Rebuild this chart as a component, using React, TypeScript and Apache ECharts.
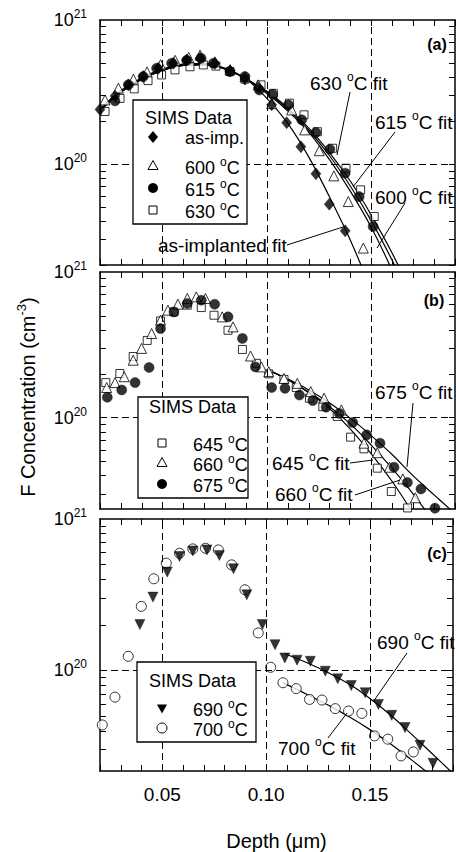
import React, { useEffect, useRef } from "react";
import * as echarts from "echarts";

const FONT = '"Liberation Sans", Arial, Helvetica, sans-serif';

// ---------- axes ----------
const X_MIN = 0.02;
const X_MAX = 0.19;
const X_STEP = 0.01;
const xLabelValues = [0.05, 0.1, 0.15];
const gridLineX = [0.05, 0.1, 0.15];
const gridLineY = 1e20;
const Y_MAX = 1e21;
const yMins = [2.0e19, 2.36e19, 2.17e19];
const yTicks = [
  2e19, 3e19, 4e19, 5e19, 6e19, 7e19, 8e19, 9e19, 1e20,
  2e20, 3e20, 4e20, 5e20, 6e20, 7e20, 8e20, 9e20, 1e21,
];

// ---------- panel (a) ----------
const aAsImpX = [0.02, 0.0272, 0.0336, 0.0407, 0.0479, 0.0551, 0.0615, 0.0679, 0.075, 0.0823, 0.0894, 0.0958, 0.1022, 0.1094, 0.1162, 0.1234, 0.1298, 0.1374];
const aAsImpY = [2.4e20, 2.97e20, 3.55e20, 4.05e20, 4.62e20, 5.01e20, 5.28e20, 5.43e20, 5.0e20, 4.44e20, 3.89e20, 3.39e20, 2.58e20, 1.94e20, 1.32e20, 8.57e19, 5.28e19, 3.45e19];
const a600X = [0.0224, 0.0288, 0.036, 0.0425, 0.049, 0.056, 0.0625, 0.0679, 0.075, 0.0823, 0.0894, 0.0958, 0.1022, 0.1118, 0.118, 0.125, 0.132, 0.1389, 0.1461];
const a600Y = [2.79e20, 3.37e20, 3.89e20, 4.37e20, 4.9e20, 5.25e20, 5.5e20, 5.71e20, 5.13e20, 4.52e20, 4.05e20, 3.55e20, 2.63e20, 2.38e20, 1.73e20, 1.24e20, 8.3e19, 5.51e19, 2.62e19];
const a615X = [0.0272, 0.0336, 0.0407, 0.0471, 0.0543, 0.0615, 0.0684, 0.0743, 0.0822, 0.0894, 0.0963, 0.1027, 0.1102, 0.1166, 0.1234, 0.1301, 0.1374, 0.1441, 0.1508];
const a615Y = [2.75e20, 3.55e20, 4.05e20, 4.62e20, 5.01e20, 5.25e20, 5.43e20, 5.01e20, 4.39e20, 4.05e20, 3.27e20, 3.05e20, 2.58e20, 2.03e20, 1.66e20, 1.27e20, 8.67e19, 5.96e19, 3.7e19];
const a630X = [0.0224, 0.0296, 0.0364, 0.043, 0.0495, 0.0559, 0.0631, 0.0695, 0.0755, 0.0822, 0.0894, 0.0971, 0.103, 0.1107, 0.1177, 0.1241, 0.1314, 0.1378, 0.1448, 0.1513];
const a630Y = [2.32e20, 2.86e20, 3.33e20, 3.8e20, 4.16e20, 4.51e20, 4.74e20, 4.88e20, 4.79e20, 4.39e20, 3.89e20, 3.55e20, 3.1e20, 2.65e20, 2.2e20, 1.68e20, 1.29e20, 9.38e19, 6.64e19, 4.34e19];

const aFitX = [0.02, 0.03, 0.04, 0.05, 0.06, 0.07, 0.08, 0.09, 0.1, 0.11, 0.12, 0.13, 0.14, 0.15, 0.16, 0.17];
const aFitAsImpY = [2.4e20, 3.24e20, 3.98e20, 4.57e20, 4.95e20, 5.01e20, 4.62e20, 3.89e20, 2.85e20, 1.91e20, 1.12e20, 5.89e19, 2.95e19, 1.32e19];
const aFit600Y = [2.34e20, 3.16e20, 3.89e20, 4.47e20, 4.84e20, 4.9e20, 4.57e20, 3.89e20, 3.09e20, 2.34e20, 1.66e20, 1.07e20, 6.46e19, 3.63e19, 1.82e19];
const aFit615Y = [2.34e20, 3.16e20, 3.89e20, 4.47e20, 4.84e20, 4.9e20, 4.57e20, 3.89e20, 3.16e20, 2.4e20, 1.72e20, 1.14e20, 7.0e19, 4.03e19, 2.14e19, 1.05e19];
const aFit630Y = [2.34e20, 3.16e20, 3.89e20, 4.47e20, 4.84e20, 4.9e20, 4.57e20, 3.89e20, 3.2e20, 2.45e20, 1.78e20, 1.2e20, 7.59e19, 4.42e19, 2.4e19, 1.2e19];

// ---------- panel (b) ----------
const b645X = [0.0228, 0.0295, 0.0359, 0.0426, 0.049, 0.0554, 0.0618, 0.0685, 0.0746, 0.0813, 0.0882, 0.0949, 0.1008, 0.1081, 0.114, 0.1203, 0.1267, 0.1336, 0.14, 0.1464, 0.1528, 0.1595, 0.1673];
const b645Y = [1.74e20, 2.01e20, 2.63e20, 3.39e20, 4.61e20, 5.32e20, 5.92e20, 5.7e20, 5.05e20, 3.98e20, 2.94e20, 2.36e20, 2.0e20, 1.83e20, 1.61e20, 1.36e20, 1.19e20, 1.02e20, 7.35e19, 6.11e19, 4.5e19, 3.11e19, 2.4e19];
const b660X = [0.0232, 0.0272, 0.0316, 0.0359, 0.0399, 0.0447, 0.049, 0.0525, 0.0573, 0.0618, 0.0661, 0.0705, 0.0785, 0.0837, 0.0921, 0.0973, 0.1008, 0.1081, 0.1145, 0.1209, 0.1273, 0.1356, 0.1464, 0.1528, 0.1586, 0.165, 0.171];
const b660Y = [1.61e20, 1.74e20, 1.91e20, 2.48e20, 2.99e20, 3.78e20, 4.67e20, 5.47e20, 6.01e20, 6.58e20, 6.75e20, 6.58e20, 4.92e20, 4.2e20, 2.65e20, 2.23e20, 2.07e20, 1.86e20, 1.72e20, 1.51e20, 1.36e20, 1.13e20, 6.68e19, 5.75e19, 4.57e19, 3.8e19, 2.82e19];
const b675X = [0.0235, 0.0304, 0.0368, 0.0435, 0.049, 0.0554, 0.0618, 0.0685, 0.0749, 0.0813, 0.0882, 0.0944, 0.1022, 0.1086, 0.1155, 0.1219, 0.1283, 0.1346, 0.141, 0.1477, 0.1541, 0.1608, 0.1672, 0.1737, 0.1804];
const b675Y = [1.38e20, 1.55e20, 1.74e20, 2.21e20, 4.09e20, 5.32e20, 6.08e20, 6.4e20, 6.01e20, 4.92e20, 3.5e20, 2.23e20, 1.61e20, 1.59e20, 1.43e20, 1.31e20, 1.18e20, 1.07e20, 9.25e19, 7.62e19, 6.68e19, 4.57e19, 3.59e19, 3.24e19, 2.39e19];

const bFitX = [0.1, 0.11, 0.12, 0.13, 0.14, 0.15, 0.16, 0.17, 0.18, 0.19];
const bFit645Y = [2.14e20, 1.82e20, 1.48e20, 1.15e20, 8.32e19, 5.62e19, 3.63e19, 2.19e19, 1.26e19];
const bFit660Y = [2.14e20, 1.82e20, 1.5e20, 1.19e20, 9.02e19, 6.46e19, 4.47e19, 2.99e19, 1.91e19];
const bFit675Y = [2.14e20, 1.84e20, 1.55e20, 1.26e20, 9.89e19, 7.5e19, 5.56e19, 3.98e19, 2.95e19, 2.19e19];

// ---------- panel (c) ----------
const c690X = [0.0392, 0.0455, 0.0524, 0.0583, 0.0647, 0.0715, 0.0775, 0.0843, 0.0907, 0.0982, 0.1043, 0.109, 0.1149, 0.1213, 0.1285, 0.1345, 0.141, 0.1477, 0.1541, 0.1605, 0.1669, 0.1741, 0.1804];
const c690Y = [2.01e20, 3.05e20, 4.46e20, 5.65e20, 6.15e20, 6.25e20, 5.74e20, 4.69e20, 3.16e20, 2.01e20, 1.48e20, 1.21e20, 1.17e20, 1.15e20, 9.89e19, 8.81e19, 7.96e19, 7.13e19, 5.97e19, 5.06e19, 4.2e19, 3.21e19, 2.44e19];
const c700X = [0.0211, 0.0272, 0.0336, 0.0399, 0.0459, 0.0519, 0.0583, 0.0647, 0.0708, 0.077, 0.0834, 0.0898, 0.0962, 0.1022, 0.1081, 0.1145, 0.1209, 0.1269, 0.1333, 0.1397, 0.1461, 0.1522, 0.1586, 0.165, 0.1709];
const c700Y = [4.37e19, 6.67e19, 1.24e20, 2.65e20, 4.03e20, 5.11e20, 5.94e20, 6.35e20, 6.41e20, 6.25e20, 4.98e20, 3.41e20, 1.77e20, 1.05e20, 8.3e19, 7.59e19, 6.44e19, 6.38e19, 5.6e19, 5.4e19, 5.21e19, 3.7e19, 3.52e19, 2.73e19, 2.9e19];

const cFit690X = [0.109, 0.12, 0.13, 0.14, 0.15, 0.16, 0.17, 0.18, 0.19];
const cFit690Y = [1.29e20, 1.12e20, 9.66e19, 8.13e19, 6.53e19, 5.07e19, 3.8e19, 2.82e19, 2.09e19];
const cFit700X = [0.108, 0.12, 0.13, 0.14, 0.15, 0.16, 0.17, 0.18];
const cFit700Y = [8.32e19, 6.92e19, 5.89e19, 4.95e19, 4.07e19, 3.27e19, 2.57e19, 2.0e19];

// ---------- helpers ----------
const zip = (xs: number[], ys: number[]) => ys.map((y, i) => [xs[i], y]);

const AX = { color: "#000", width: 1.5 };
const TK = { color: "#000", width: 1 };

const supRich = {
  n: { fontSize: 19, fontFamily: FONT, color: "#000", lineHeight: 24 },
  d: { fontSize: 12, fontFamily: FONT, color: "#000", lineHeight: 8, verticalAlign: "top" },
  l: { fontSize: 18, fontFamily: FONT, color: "#000", lineHeight: 24 },
  e: { fontSize: 12, fontFamily: FONT, color: "#000", lineHeight: 14, verticalAlign: "top" },
};

const deg = (pre: string, post: string, key = "n") => `{${key}|${pre} }{d|o}{${key}|${post}}`;

const grids = [
  { left: 100, top: 20, width: 355, height: 245 },
  { left: 100, top: 272, width: 355, height: 237 },
  { left: 100, top: 519, width: 355, height: 253 },
];

function xAxisFor(g: number, position: "bottom" | "top") {
  const showLabel = g === 2 && position === "bottom";
  const ax: any = {
    type: "value",
    gridIndex: g,
    position,
    min: X_MIN,
    max: X_MAX,
    interval: X_STEP,
    axisLine: { show: true, onZero: false, lineStyle: AX },
    axisTick: { show: true, inside: true, length: 6, lineStyle: TK },
    splitLine: { show: false },
    axisLabel: showLabel
      ? {
          show: true,
          interval: 0,
          margin: 14,
          fontSize: 19,
          fontFamily: FONT,
          color: "#000",
          formatter: (v: number) => {
            const hit = xLabelValues.find((t) => Math.abs(t - v) < 1e-6);
            return hit === undefined ? "" : hit.toFixed(2);
          },
        }
      : { show: false },
  };
  if (showLabel) {
    ax.name = "Depth (\u03bcm)";
    ax.nameLocation = "middle";
    ax.nameGap = 60;
    ax.nameTextStyle = { fontSize: 20, fontFamily: FONT, color: "#000" };
  }
  return ax;
}

function yAxisFor(g: number, position: "left" | "right") {
  return {
    type: "log",
    logBase: 10,
    gridIndex: g,
    position,
    min: yMins[g],
    max: Y_MAX,
    axisLine: { show: true, onZero: false, lineStyle: AX },
    axisTick: { show: true, inside: true, length: 6, customValues: yTicks, lineStyle: TK },
    splitLine: { show: false },
    axisLabel:
      position === "left"
        ? {
            show: true,
            margin: 13,
            formatter: (v: number) => {
              const e = Math.log10(v);
              const r = Math.round(e);
              if (Math.abs(e - r) > 1e-6) return "";
              return `{l|10}{e|${r}}`;
            },
            rich: supRich,
          }
        : { show: false },
  };
}

const gridMarkLine = {
  silent: true,
  symbol: ["none", "none"],
  label: { show: false },
  lineStyle: { color: "#000", width: 1, type: [7, 4] },
  data: [...gridLineX.map((v) => ({ xAxis: v })), { yAxis: gridLineY }],
};

function fit(name: string, g: number, xs: number[], ys: number[], withGrid = false) {
  const s: any = {
    name,
    type: "line",
    xAxisIndex: 2 * g,
    yAxisIndex: 2 * g,
    data: zip(xs, ys),
    symbol: "none",
    smooth: 0.4,
    clip: true,
    silent: true,
    z: 2,
    lineStyle: { color: "#000", width: 1.2 },
  };
  if (withGrid) s.markLine = gridMarkLine;
  return s;
}

function pts(name: string, g: number, xs: number[], ys: number[], symbol: string, size: any, filled: boolean, rotate = 0) {
  return {
    name,
    type: "scatter",
    xAxisIndex: 2 * g,
    yAxisIndex: 2 * g,
    data: zip(xs, ys),
    symbol,
    symbolSize: size,
    symbolRotate: rotate,
    silent: true,
    z: 3,
    itemStyle: filled
      ? { color: "#000", borderColor: "#000", borderWidth: 0.5 }
      : { color: "#fff", borderColor: "#000", borderWidth: 1 },
  };
}

// ---------- graphic helpers (legend / annotations) ----------
function sym(kind: string, cx: number, cy: number): any {
  const open = { fill: "#fff", stroke: "#000", lineWidth: 1 };
  const solid = { fill: "#000" };
  switch (kind) {
    case "diamond":
      return { type: "polygon", z: 101, shape: { points: [[cx, cy - 6], [cx + 5, cy], [cx, cy + 6], [cx - 5, cy]] }, style: solid };
    case "triOpen":
      return { type: "polygon", z: 101, shape: { points: [[cx, cy - 5.5], [cx + 5, cy + 3.5], [cx - 5, cy + 3.5]] }, style: open };
    case "triDown":
      return { type: "polygon", z: 101, shape: { points: [[cx - 5, cy - 3.5], [cx + 5, cy - 3.5], [cx, cy + 5.5]] }, style: solid };
    case "circle":
      return { type: "circle", z: 101, shape: { cx, cy, r: 5 }, style: solid };
    case "circleOpen":
      return { type: "circle", z: 101, shape: { cx, cy, r: 5 }, style: open };
    default:
      return { type: "rect", z: 101, shape: { x: cx - 4, y: cy - 4, width: 8, height: 8 }, style: open };
  }
}

function txt(text: string, x: number, y: number, align = "left", z = 101): any {
  return {
    type: "text",
    x,
    y,
    z,
    style: {
      text,
      rich: supRich,
      align,
      textAlign: align,
      verticalAlign: "middle",
      textVerticalAlign: "middle",
      fill: "#000",
      fontFamily: FONT,
      fontSize: 18,
    },
  };
}

function plain(text: string, x: number, y: number, size = 18): any {
  return {
    type: "text",
    x,
    y,
    z: 101,
    style: {
      text,
      fontSize: size,
      fontFamily: FONT,
      fill: "#000",
      align: "left",
      textAlign: "left",
      verticalAlign: "middle",
      textVerticalAlign: "middle",
    },
  };
}

function leader(x1: number, y1: number, x2: number, y2: number): any {
  return { type: "line", z: 101, shape: { x1, y1, x2, y2 }, style: { stroke: "#000", lineWidth: 1 } };
}

function box(x: number, y: number, w: number, h: number): any {
  return { type: "rect", z: 100, shape: { x, y, width: w, height: h }, style: { fill: "#fff", stroke: "#000", lineWidth: 1.3 } };
}

function buildGraphic() {
  const els: any[] = [];
  // legend (a)
  els.push(box(133, 100, 114, 124));
  els.push(plain("SIMS Data", 145, 118));
  els.push(sym("diamond", 153, 137), plain("as-imp.", 185, 137.5));
  els.push(sym("triOpen", 153, 166), txt(deg("600", "C", "l"), 185, 168));
  els.push(sym("circle", 153, 188), txt(deg("615", "C", "l"), 185, 190));
  els.push(sym("square", 153, 210), txt(deg("630", "C", "l"), 185, 212));
  // legend (b)
  els.push(box(138, 397, 110, 101));
  els.push(plain("SIMS Data", 149, 407));
  els.push(sym("square", 162, 443), txt(deg("645", "C", "l"), 193, 445));
  els.push(sym("triOpen", 162, 463), txt(deg("660", "C", "l"), 193, 465));
  els.push(sym("circle", 162, 484), txt(deg("675", "C", "l"), 193, 486));
  // legend (c)
  els.push(box(137, 662, 119, 80));
  els.push(plain("SIMS Data", 149, 681));
  els.push(sym("triDown", 162, 708), txt(deg("690", "C", "l"), 193, 710));
  els.push(sym("circleOpen", 162, 728), txt(deg("700", "C", "l"), 193, 730));

  // fit annotations (a)
  els.push(txt(deg("630", "C fit"), 310, 83), leader(350, 92, 337, 155));
  els.push(txt(deg("615", "C fit"), 375, 122), leader(395, 132, 353, 187));
  els.push(txt(deg("600", "C fit"), 375, 197), leader(405, 203, 377, 248));
  els.push(plain("as-implanted fit", 158, 245, 19), leader(287, 245, 343, 227));
  // (b)
  els.push(txt(deg("675", "C fit"), 375, 392), leader(413, 403, 407, 467));
  els.push(txt(deg("645", "C fit"), 272, 463), leader(350, 463, 373, 460));
  els.push(txt(deg("660", "C fit"), 275, 494), leader(355, 495, 400, 480));
  // (c)
  els.push(txt(deg("690", "C fit"), 377, 642), leader(407, 653, 373, 702));
  els.push(txt(deg("700", "C fit"), 278, 748), leader(328, 738, 347, 713));

  // panel letters
  const bold = (t: string, x: number, y: number) => ({
    type: "text",
    x,
    y,
    z: 101,
    style: { text: t, fontSize: 16, fontWeight: "bold", fontFamily: FONT, fill: "#000", align: "center", textAlign: "center", verticalAlign: "middle", textVerticalAlign: "middle" },
  });
  els.push(bold("(a)", 437, 44), bold("(b)", 434, 300), bold("(c)", 437, 553));

  // y-axis title
  els.push({
    type: "text",
    x: 28,
    y: 397,
    rotation: Math.PI / 2,
    z: 101,
    style: {
      text: "{t|F Concentration (cm}{e|-3}{t|)}",
      rich: {
        t: { fontSize: 20, fontFamily: FONT, color: "#000", lineHeight: 26 },
        e: { fontSize: 13, fontFamily: FONT, color: "#000", lineHeight: 14, verticalAlign: "top" },
      },
      align: "center",
      textAlign: "center",
      verticalAlign: "middle",
      textVerticalAlign: "middle",
    },
  });
  return els;
}

function buildOption() {
  const xAxis: any[] = [];
  const yAxis: any[] = [];
  for (let g = 0; g < 3; g++) {
    xAxis.push(xAxisFor(g, "bottom"), xAxisFor(g, "top"));
    yAxis.push(yAxisFor(g, "left"), yAxisFor(g, "right"));
  }
  const series = [
    fit("as-implanted fit", 0, aFitX, aFitAsImpY, true),
    fit("600 °C fit", 0, aFitX, aFit600Y),
    fit("615 °C fit", 0, aFitX, aFit615Y),
    fit("630 °C fit", 0, aFitX, aFit630Y),
    pts("630 °C", 0, a630X, a630Y, "rect", 8, false),
    pts("600 °C", 0, a600X, a600Y, "triangle", 10, false),
    pts("as-imp.", 0, aAsImpX, aAsImpY, "diamond", [10, 12], true),
    pts("615 °C", 0, a615X, a615Y, "circle", 10, true),

    fit("645 °C fit", 1, bFitX, bFit645Y, true),
    fit("660 °C fit", 1, bFitX, bFit660Y),
    fit("675 °C fit", 1, bFitX, bFit675Y),
    pts("645 °C", 1, b645X, b645Y, "rect", 8, false),
    pts("660 °C", 1, b660X, b660Y, "triangle", 10, false),
    pts("675 °C", 1, b675X, b675Y, "circle", 10, true),

    fit("690 °C fit", 2, cFit690X, cFit690Y, true),
    fit("700 °C fit", 2, cFit700X, cFit700Y),
    pts("700 °C", 2, c700X, c700Y, "circle", 10, false),
    pts("690 °C", 2, c690X, c690Y, "triangle", 10, true, 180),
  ];
  return {
    animation: false,
    backgroundColor: "#fff",
    textStyle: { fontFamily: FONT },
    grid: grids,
    xAxis,
    yAxis,
    series,
    graphic: { elements: buildGraphic() },
  };
}

export default function App() {
  const ref = useRef<HTMLDivElement>(null);
  useEffect(() => {
    if (!ref.current) return;
    const chart = echarts.init(ref.current, undefined, { renderer: "svg" });
    chart.setOption(buildOption() as any);
    return () => chart.dispose();
  }, []);
  return (
    <div
      ref={ref}
      style={{ position: "absolute", left: 0, top: 0, width: 456, height: 852, background: "#fff" }}
    />
  );
}
